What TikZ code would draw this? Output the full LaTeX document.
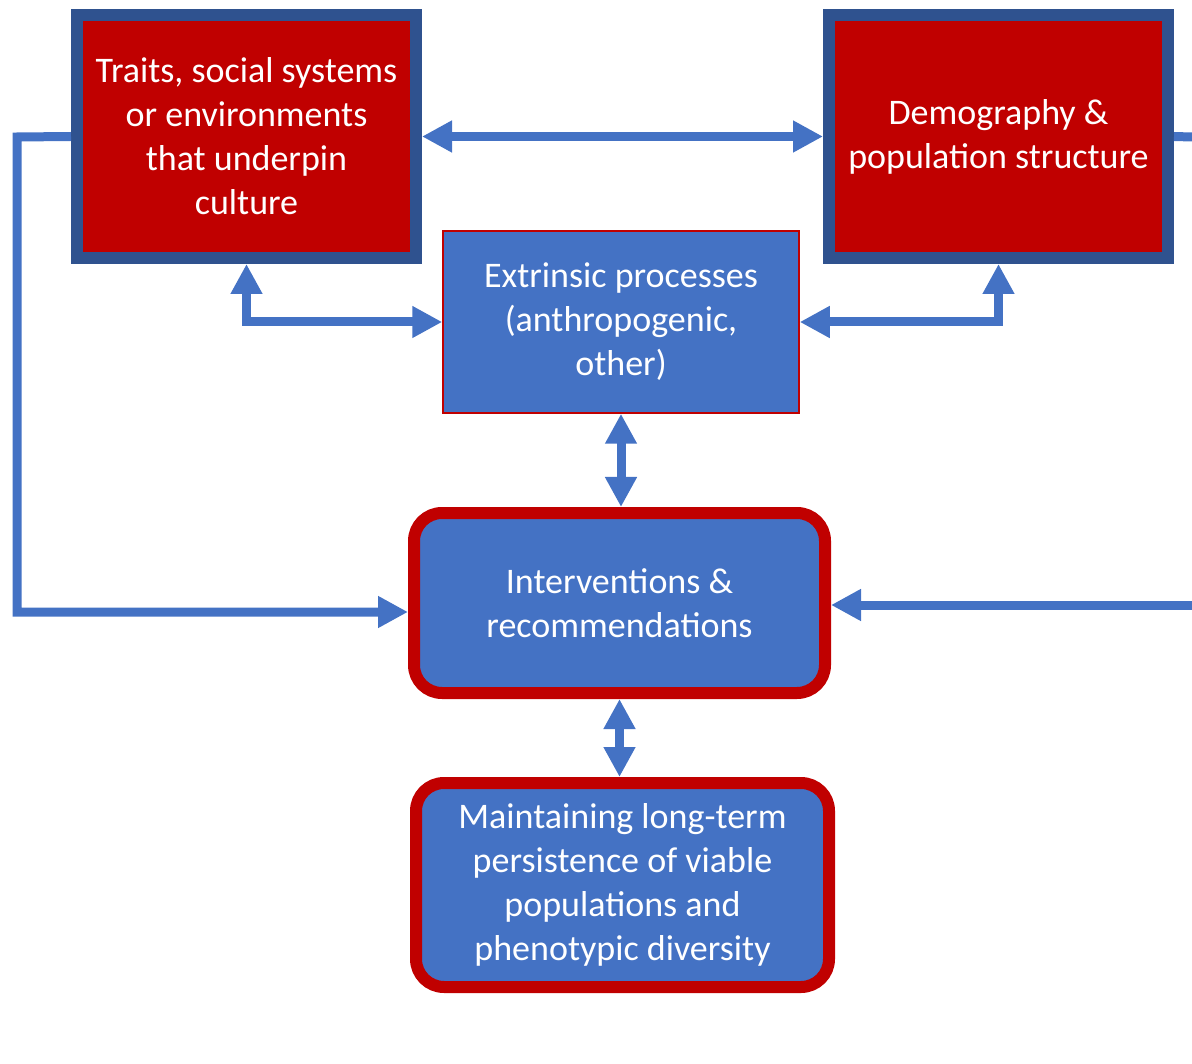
\documentclass[tikz,border=0pt]{standalone}
\usepackage{fontspec}
\setmainfont{Carlito}
\usetikzlibrary{arrows.meta}
\definecolor{boxred}{HTML}{C00000}
\definecolor{boxblue}{HTML}{4472C4}
\definecolor{edgeblue}{HTML}{2F528F}
\begin{document}
\begin{tikzpicture}[x=1pt,y=-1pt,
  txt/.style={text=white, font=\fontsize{36}{44}\selectfont, align=center, inner sep=0pt},
  redbox/.style={txt, rectangle, fill=boxred, draw=edgeblue, line width=12pt,
    minimum width=339pt, minimum height=243pt},
  extbox/.style={txt, rectangle, fill=boxblue, draw=boxred, line width=1.5pt,
    minimum width=356pt, minimum height=182pt},
  roundbox/.style={txt, rectangle, rounded corners=28pt, fill=boxblue, draw=boxred,
    line width=12pt},
  tip/.style={Triangle[width=30pt,length=30pt]},
  link/.style={draw=boxblue, line width=9pt},
  both/.style={link, {Triangle[width=30pt,length=30pt]}-{Triangle[width=30pt,length=30pt]}},
  one/.style={link, -{Triangle[width=30pt,length=30pt]}}
]
\useasboundingbox (0,0) rectangle (1192,1064);

% boxes
\node[redbox] (L) at (246.5,136.5) {Traits, social systems\\or environments\\that underpin\\culture};
\node[redbox] (R) at (998.5,136.5) {Demography \&\\population structure};
\node[extbox] (E) at (621,322) {Extrinsic processes\\(anthropogenic,\\other)};
\node[roundbox, minimum width=411pt, minimum height=180pt] (I) at (619.5,603)
  {Interventions \&\\recommendations};
\node[roundbox, minimum width=413pt, minimum height=204pt] (M) at (622.5,885)
  {Maintaining long-term\\persistence of viable\\populations and\\phenotypic diversity};

% free ends and bends of the outer loops
\coordinate (lk1) at (17,137);
\coordinate (lk2) at (17,612);
\coordinate (rk1) at (1192,137);
\coordinate (rk2) at (1192,605);

% connectors
\draw[both] (L.east) -- (R.west);
\draw[both] (L.south) |- (E.west);
\draw[both] (R.south) |- (E.east);
\draw[both] (E.south) -- (E.south |- I.north);
\draw[both] (I.south) -- (I.south |- M.north);
\draw[one] (L.west) -- (lk1) -- (lk2) -- (I.west |- lk2);
\draw[link] (R.east) -- (rk1);
\draw[one] (rk2) -- (I.east |- rk2);
\end{tikzpicture}
\end{document}
